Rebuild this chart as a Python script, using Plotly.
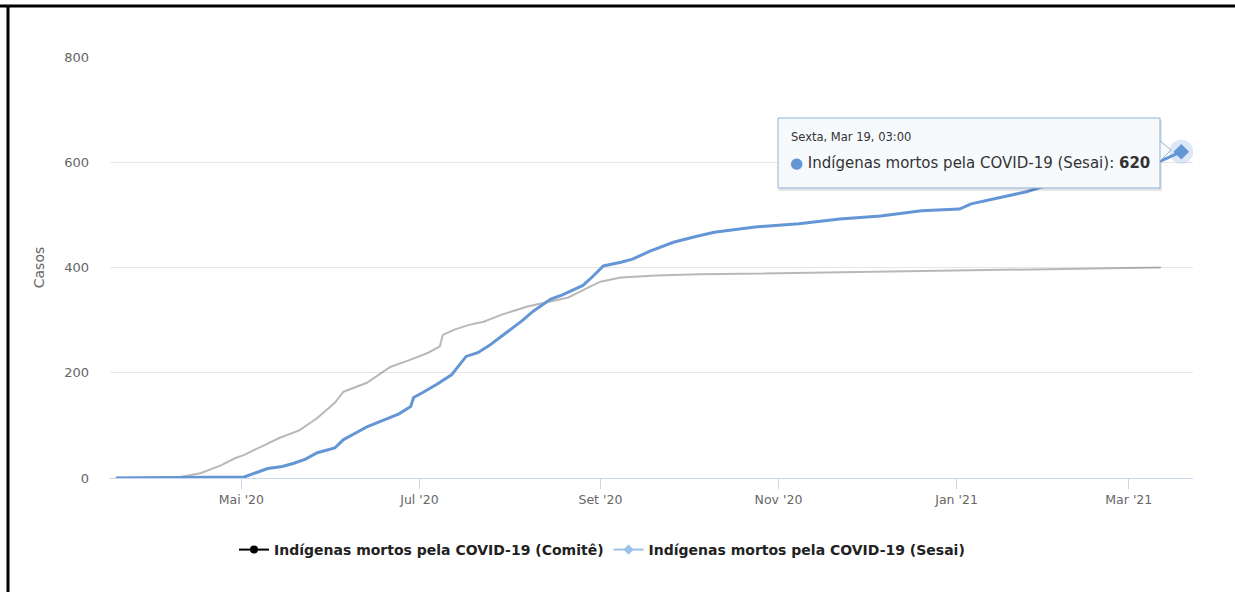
import plotly.graph_objects as go

# ---------------- data ----------------
comite_dates = ["2020-03-19", "2020-04-10", "2020-04-17", "2020-04-24", "2020-04-29", "2020-05-02",
                "2020-05-08", "2020-05-14", "2020-05-21", "2020-05-27", "2020-06-02", "2020-06-05",
                "2020-06-13", "2020-06-17", "2020-06-21", "2020-06-28", "2020-07-04", "2020-07-08",
                "2020-07-09", "2020-07-13", "2020-07-18", "2020-07-23", "2020-07-29", "2020-08-07",
                "2020-08-14", "2020-08-21", "2020-08-29", "2020-09-01", "2020-09-08", "2020-09-20",
                "2020-10-05", "2020-11-08", "2020-12-31", "2021-03-12"]
comite_values = [0, 2, 9, 24, 38, 44, 60, 76, 91, 114, 143, 164, 181, 196, 211, 225, 238, 250,
                 272, 282, 291, 297, 310, 326, 335, 343, 365, 373, 381, 385, 387, 390, 395, 400]

sesai_dates = ["2020-03-19", "2020-04-20", "2020-05-02", "2020-05-06", "2020-05-10", "2020-05-15",
               "2020-05-19", "2020-05-23", "2020-05-27", "2020-06-02", "2020-06-05", "2020-06-09",
               "2020-06-13", "2020-06-20", "2020-06-24", "2020-06-28", "2020-06-29", "2020-07-02",
               "2020-07-07", "2020-07-12", "2020-07-17", "2020-07-21", "2020-07-25", "2020-07-29",
               "2020-08-02", "2020-08-05", "2020-08-09", "2020-08-15", "2020-08-19", "2020-08-23",
               "2020-08-26", "2020-08-29", "2020-09-02", "2020-09-08", "2020-09-12", "2020-09-18",
               "2020-09-26", "2020-10-03", "2020-10-10", "2020-10-24", "2020-11-08", "2020-11-22",
               "2020-12-06", "2020-12-20", "2021-01-02", "2021-01-06", "2021-01-17", "2021-01-25",
               "2021-02-01", "2021-02-10", "2021-02-19", "2021-03-01", "2021-03-08", "2021-03-13",
               "2021-03-19"]
sesai_values = [0, 1, 2, 10, 18, 22, 28, 36, 48, 57, 73, 85, 97, 113, 122, 136, 153, 162,
                178, 196, 231, 238, 252, 269, 286, 298, 317, 340, 348, 359, 366, 381, 403, 410,
                416, 431, 448, 458, 467, 477, 483, 492, 498, 508, 511, 521, 534, 544, 556, 565,
                575, 585, 595, 605, 620]

tick_dates = ["2020-05-01", "2020-07-01", "2020-09-01", "2020-11-01", "2021-01-01", "2021-03-01"]
tick_labels = ["Mai '20", "Jul '20", "Set '20", "Nov '20", "Jan '21", "Mar '21"]
y_ticks = [0, 200, 400, 600, 800]

name_comite = "Indígenas mortos pela COVID-19 (Comitê)"
name_sesai = "Indígenas mortos pela COVID-19 (Sesai)"
tooltip_date = "Sexta, Mar 19, 03:00"

BLUE = "#6496d6"
FONT = "DejaVu Sans, Verdana, sans-serif"

fig = go.Figure()

# Comitê series (faded because Sesai is hovered)
fig.add_trace(go.Scatter(x=comite_dates, y=comite_values, mode="lines",
                         line=dict(color="rgba(0,0,0,0.28)", width=2),
                         showlegend=False, hoverinfo="skip"))
# Sesai series
fig.add_trace(go.Scatter(x=sesai_dates, y=sesai_values, mode="lines",
                         line=dict(color=BLUE, width=3),
                         showlegend=False, hoverinfo="skip"))
# hovered point halo + marker
fig.add_trace(go.Scatter(x=sesai_dates[-1:], y=sesai_values[-1:], mode="markers",
                         marker=dict(symbol="circle", size=24, color="rgba(100,150,214,0.22)"),
                         showlegend=False, hoverinfo="skip"))
fig.add_trace(go.Scatter(x=sesai_dates[-1:], y=sesai_values[-1:], mode="markers",
                         marker=dict(symbol="diamond", size=12, color=BLUE),
                         showlegend=False, hoverinfo="skip"))

# legend entries
fig.add_trace(go.Scatter(x=[None], y=[None], mode="lines+markers", name=name_comite,
                         line=dict(color="#000000", width=2),
                         marker=dict(symbol="circle", size=8, color="#000000")))
fig.add_trace(go.Scatter(x=[None], y=[None], mode="lines+markers", name=name_sesai,
                         line=dict(color="#9ec1ea", width=2),
                         marker=dict(symbol="diamond", size=8, color="#9ec1ea")))

# pixel -> paper helpers
L, R, T, B = 110, 1193, 57, 478
W, H = R - L, B - T
def px(xp):
    return (xp - L) / W
def py(yp):
    return (B - yp) / H

# tooltip box (shadow, callout, box)
bx0, bx1, by0, by1 = 778, 1160, 118, 188
fig.add_shape(type="rect", xref="paper", yref="paper",
              x0=px(bx0 + 1), x1=px(bx1 + 2), y0=py(by0 + 2), y1=py(by1 + 3),
              line=dict(width=0), fillcolor="rgba(0,0,0,0.10)", layer="above")
fig.add_shape(type="path", xref="paper", yref="paper",
              path=(f"M {px(bx1 - 1)} {py(140)} L {px(1171)} {py(150)} L {px(bx1 - 1)} {py(162)} Z"),
              line=dict(color="#8fb0d6", width=1), fillcolor="rgba(247,250,253,1)", layer="above")
fig.add_shape(type="rect", xref="paper", yref="paper",
              x0=px(bx0), x1=px(bx1), y0=py(by0), y1=py(by1),
              line=dict(color="#8fb0d6", width=1), fillcolor="rgba(247,250,253,1)", layer="above")
fig.add_annotation(xref="paper", yref="paper", x=px(789), y=py(137), xanchor="left", yanchor="middle",
                   text=tooltip_date, showarrow=False,
                   font=dict(family=FONT, size=11.5, color="#333333"))
fig.add_annotation(xref="paper", yref="paper", x=px(788), y=py(163), xanchor="left", yanchor="middle",
                   text=(f"<span style='color:{BLUE}'>●</span> {name_sesai}: "
                         f"<b>{sesai_values[-1]}</b>"),
                   showarrow=False, font=dict(family=FONT, size=15, color="#333333"))

# frame lines of the page
fig.add_shape(type="line", xref="paper", yref="paper", x0=px(0), x1=px(1240), y0=py(6), y1=py(6),
              line=dict(color="black", width=3))
fig.add_shape(type="line", xref="paper", yref="paper", x0=px(8), x1=px(8), y0=py(6), y1=py(600),
              line=dict(color="black", width=3))

fig.update_layout(
    width=1235, height=592,
    margin=dict(l=L, r=1235 - R, t=T, b=592 - B),
    paper_bgcolor="white", plot_bgcolor="white",
    font=dict(family=FONT, size=12, color="#666666"),
    showlegend=True,
    legend=dict(orientation="h", x=px(234), xanchor="left", y=py(550), yanchor="middle",
                font=dict(family=FONT, size=14, color="#222222", weight="bold"),
                itemwidth=30, bgcolor="rgba(0,0,0,0)"),
    xaxis=dict(type="date", range=["2020-03-17", "2021-03-23"],
               tickvals=tick_dates, ticktext=tick_labels,
               ticks="outside", ticklen=10, tickcolor="#ccd6eb", tickwidth=1,
               showline=True, linecolor="#ccd6eb", linewidth=1,
               showgrid=False, zeroline=False,
               tickfont=dict(family=FONT, size=12.5, color="#666666")),
    yaxis=dict(range=[0, 800], tickvals=y_ticks, showgrid=True, gridcolor="#e6e6e6", gridwidth=1,
               zeroline=False, showline=False, ticks="", ticklabelstandoff=20,
               title=dict(text="Casos", font=dict(family=FONT, size=14, color="#666666"), standoff=16),
               tickfont=dict(family=FONT, size=13, color="#666666")),
)

fig.write_html("out.html", config={"displayModeBar": False},
               post_script="document.body.style.margin='0px';")
